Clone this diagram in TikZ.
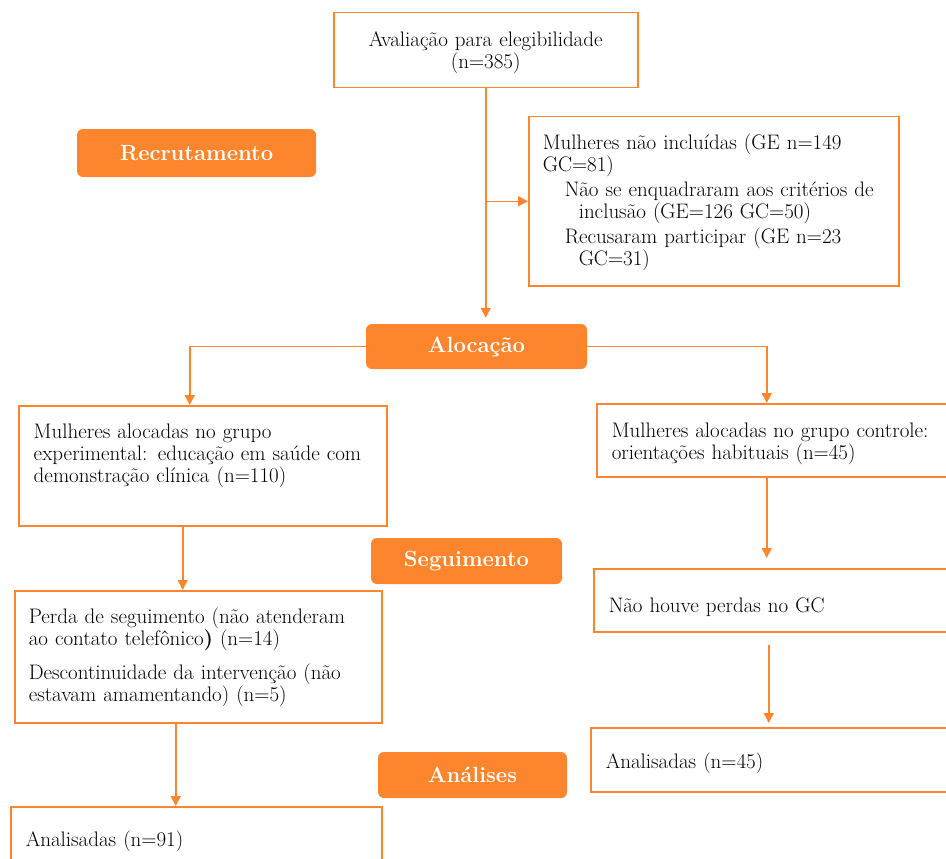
\documentclass[tikz,border=0pt]{standalone}
\usetikzlibrary{arrows.meta}
\definecolor{laranja}{RGB}{253,133,46}
\begin{document}
\begin{tikzpicture}[x=1pt,y=-1pt,
	caixa/.style={draw=laranja, line width=1.5pt, anchor=north west, align=left, inner xsep=14pt, inner ysep=0pt, font=\fontsize{21}{22}\selectfont},
	etapa/.style={fill=laranja, rounded corners=6pt, text=white, inner sep=0pt, font=\fontsize{22}{24}\selectfont\bfseries},
	seta/.style={draw=laranja, line width=1.5pt, -{Triangle[width=10pt,length=10pt]}}]
	\useasboundingbox (0,0) rectangle (946,859);
	\clip (0,0) rectangle (946,859);
	% caixas
	\node[caixa, align=center, text width=276pt, text height=34pt, text depth=41pt] (aval) at (333,12) {Avaliação para elegibilidade\\(n=385)};
	\node[caixa, text width=342pt, text height=33pt, text depth=136pt] (excl) at (528,116) {Mulheres não incluídas (GE n=149\\GC=81)\\[3pt]\hspace*{22pt}Não se enquadraram aos critérios de\\\hspace*{36pt}inclusão (GE=126 GC=50)\\[3pt]\hspace*{22pt}Recusaram participar (GE n=23\\\hspace*{36pt}GC=31)};
	\node[caixa, inner xsep=15pt, text width=338pt, text height=33pt, text depth=87pt] (expg) at (18,405) {Mulheres alocadas no grupo\\experimental: educação em saúde com\\demonstração clínica (n=110)};
	\node[caixa, inner xsep=15pt, text width=334pt, text height=34pt, text depth=39pt] (ctrl) at (596,403) {Mulheres alocadas no grupo controle:\\orientações habituais (n=45)};
	\node[caixa, text width=339pt, text height=33pt, text depth=99pt] (perda) at (14,590) {Perda de seguimento (não atenderam\\ao contato telefônico\textbf{)} (n=14)\\[12pt]Descontinuidade da intervenção (não\\estavam amamentando) (n=5)};
	\node[caixa, inner xsep=15pt, text width=337pt, text height=44pt, text depth=19pt] (nogc) at (593,568) {Não houve perdas no GC};
	\node[caixa, inner xsep=15pt, text width=340pt, text height=41pt, text depth=23pt] (an45) at (590,727) {Analisadas (n=45)};
	\node[caixa, inner xsep=15pt, text width=341pt, text height=40pt, text depth=34pt] (an91) at (10,806) {Analisadas (n=91)};
	% etapas
	\node[etapa, minimum width=239pt, minimum height=48pt] (recr) at (196.5,153) {Recrutamento};
	\node[etapa, minimum width=221pt, minimum height=45pt] (aloc) at (476.5,346.5) {Alocação};
	\node[etapa, minimum width=191pt, minimum height=46pt] (segu) at (466.5,561) {Seguimento};
	\node[etapa, minimum width=189pt, minimum height=46pt] (anal) at (472.5,775) {Análises};
	% setas
	\draw[seta, shorten >=6pt] (aval.south) -- (aval.south |- aloc.north);
	\draw[seta] (aval.south |- excl.west) -- (excl.west);
	\draw[seta] (aloc.west) -| ([xshift=-13pt]expg.north);
	\draw[seta] (aloc.east) -| ([xshift=-12pt]ctrl.north);
	\draw[seta] ([xshift=-20pt]expg.south) -- ([xshift=-20pt]expg.south |- perda.north);
	\draw[seta] ([xshift=-22.5pt]perda.south) -- ([xshift=-22.5pt]perda.south |- an91.north);
	\draw[seta, shorten >=10pt] ([xshift=-12pt]ctrl.south) -- ([xshift=-12pt]ctrl.south |- nogc.north);
	\draw[seta, shorten <=12pt, shorten >=4pt] ([xshift=-8.5pt]nogc.south) -- ([xshift=-8.5pt]nogc.south |- an45.north);
\end{tikzpicture}
\end{document}
